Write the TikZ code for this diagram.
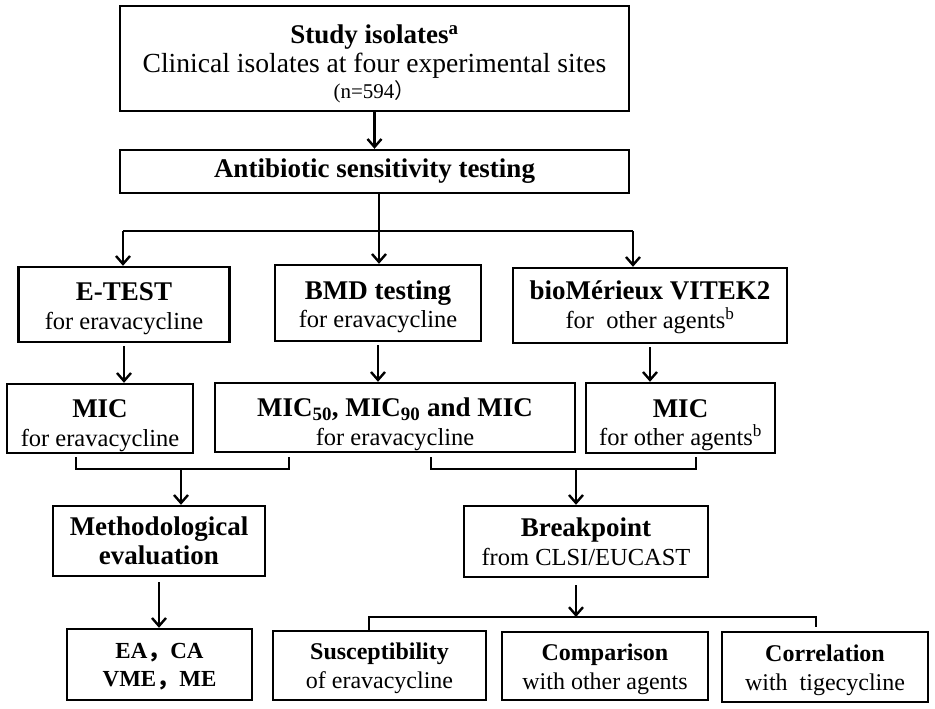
\documentclass[tikz,border=0pt]{standalone}
\usepackage{fontspec}
\setmainfont{Liberation Serif}
\newfontfamily\cjk{Noto Sans CJK SC}
\usetikzlibrary{arrows.meta}

\newcommand{\hd}{\fontsize{27}{31}\selectfont\bfseries}
\newcommand{\up}[1]{\rule{0pt}{#1}}

\tikzset{
    box/.style={draw, line width=2.4pt, align=center, inner sep=0pt,
                font=\fontsize{24.5}{28.5}\selectfont},
    ln/.style={line width=2.4pt},
    arr/.style={ln, -{Straight Barb[length=8pt,width=14pt]}}
}

\begin{document}
\begin{tikzpicture}[x=1pt,y=-1pt]
    \useasboundingbox (0,0) rectangle (935,709);

    % Top
    \node[box, minimum width=509, minimum height=105] (study) at (374.5,58.5)
        {{\hd\up{30pt}Study isolates\textsuperscript{a}}\\[0pt]
         {\fontsize{27.6}{30}\selectfont Clinical isolates at four experimental sites}\\[-2pt]
         {\fontsize{21}{24}\selectfont (n=594{\cjk ）}}};
    \node[box, minimum width=509, minimum height=43] (ast) at (374.5,171.5)
        {\hd Antibiotic sensitivity testing};

    % Testing methods
    \node[box, minimum width=211, minimum height=75] (etest) at (124,304.5)
        {{\hd\up{26pt}E-TEST}\\for eravacycline};
    \node[box, minimum width=206, minimum height=76] (bmd) at (378,303)
        {{\hd\up{26pt}BMD testing}\\for eravacycline};
    \node[box, minimum width=274, minimum height=75] (vitek) at (650,305.5)
        {{\hd\up{22pt}bioMérieux VITEK2}\\for\ \ other agents\textsuperscript{b}};

    % MIC
    \node[box, minimum width=186, minimum height=69] (mica) at (100,418.5)
        {{\hd\up{32pt}MIC}\\for eravacycline};
    \node[box, minimum width=360, minimum height=69] (micb) at (395,417.5)
        {{\hd\up{32pt}MIC\textsubscript{50}, MIC\textsubscript{90} and MIC}\\for eravacycline};
    \node[box, minimum width=189, minimum height=70] (micc) at (680.5,418)
        {{\hd\up{32pt}MIC}\\for other agents\textsuperscript{b}};

    % Evaluation
    \node[box, minimum width=212, minimum height=70] (meth) at (159,541)
        {\hd Methodological\\\hd evaluation};
    \node[box, minimum width=244, minimum height=71] (bp) at (586,541.5)
        {{\hd Breakpoint}\\from CLSI/EUCAST};

    % Results
    \node[box, minimum width=185, minimum height=71, font=\fontsize{23}{28}\selectfont\bfseries] (ea) at (159.5,664.5)
        {\up{19pt}EA{\cjk ，}CA\\VME{\cjk ，}ME};
    \node[box, minimum width=213, minimum height=69, font=\fontsize{24}{29}\selectfont] (sus) at (379.5,665.5)
        {\up{23pt}\textbf{Susceptibility}\\of eravacycline};
    \node[box, minimum width=206, minimum height=68, font=\fontsize{24}{29}\selectfont] (comp) at (605,666)
        {\up{23pt}\textbf{Comparison}\\with other agents};
    \node[box, minimum width=206, minimum height=70, font=\fontsize{24}{29}\selectfont] (corr) at (825,667)
        {\up{23pt}\textbf{Correlation}\\with\ \ tigecycline};

    % Arrows
    \draw[arr] (study) -- (ast);

    \coordinate (t0) at (123,231);
    \coordinate (t1) at (379,231);
    \coordinate (t2) at (633,231);
    \draw[ln] (t1 |- ast.south) -- (t1);
    \draw[ln] (t0) -- (t2);
    \draw[arr] (t0) -- (t0 |- etest.north);
    \draw[arr] (t1) -- (t1 |- bmd.north);
    \draw[arr] (t2) -- (t2 |- vitek.north);

    \draw[arr, shorten <=3pt] (etest) -- (etest |- mica.north);
    \draw[arr, shorten <=3pt] (bmd) -- (bmd |- micb.north);
    \draw[arr, shorten <=3pt] (vitek) -- (vitek |- micc.north);

    % Brackets
    \coordinate (la) at (76,469);
    \coordinate (lb) at (289,469);
    \coordinate (lm) at (181,469);
    \draw[ln] (76,457) -- (la) -- (lb) -- (289,457);
    \draw[arr] (lm) -- (lm |- meth.north);

    \coordinate (ra) at (431,469);
    \coordinate (rb) at (696,469);
    \coordinate (rm) at (576,469);
    \draw[ln] (431,457) -- (ra) -- (rb) -- (696,457);
    \draw[arr] (rm) -- (rm |- bp.north);

    \draw[arr, shorten <=5pt] (meth) -- (meth |- ea.north);

    \coordinate (bm) at (576,617);
    \draw[arr, shorten <=7pt] (bm |- bp.south) -- (bm);
    \draw[ln] (369,630) -- (369,617) -- (816,617) -- (816,627);
\end{tikzpicture}
\end{document}
